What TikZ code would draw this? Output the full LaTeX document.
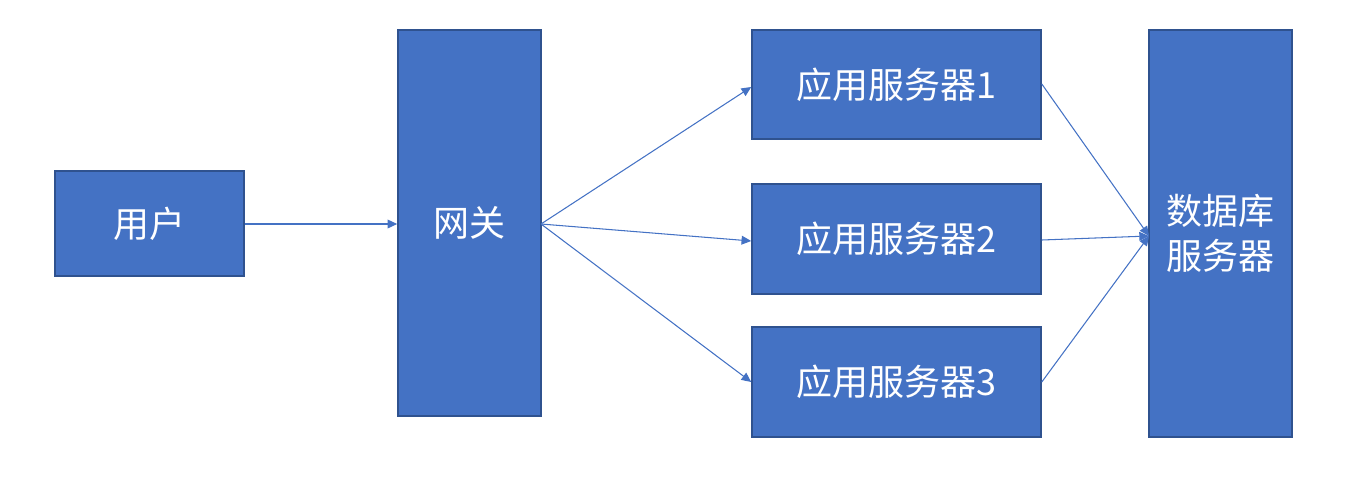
\documentclass[tikz,border=0pt]{standalone}
\usepackage{fontspec}
\setmainfont{Noto Sans CJK SC}
\usetikzlibrary{arrows.meta}
\definecolor{boxfill}{HTML}{4472C4}
\definecolor{boxline}{HTML}{2F528F}
\definecolor{arrowc}{HTML}{4472C4}
\begin{document}
\begin{tikzpicture}[x=0.02cm,y=-0.02cm,
  blk/.style={draw=boxline,line width=0.9pt,fill=boxfill,text=white,font=\fontsize{20.5}{25.5}\selectfont,inner sep=0pt,align=center},
  conn/.style={draw=arrowc,line width=0.6pt,-{Triangle[length=5.5pt,width=5pt]}}]
\useasboundingbox (0,0) rectangle (1350,490);
\node[blk,minimum width=189*0.02cm,minimum height=105*0.02cm] (user) at (149.5,223.5) {用户};
\node[blk,minimum width=143*0.02cm,minimum height=386*0.02cm] (gw) at (469.5,223) {网关};
\node[blk,minimum width=289*0.02cm,minimum height=109*0.02cm] (a1) at (896.5,84.5) {应用服务器1};
\node[blk,minimum width=289*0.02cm,minimum height=110*0.02cm] (a2) at (896.5,239) {应用服务器2};
\node[blk,minimum width=289*0.02cm,minimum height=110*0.02cm] (a3) at (896.5,382) {应用服务器3};
\node[blk,minimum width=143*0.02cm,minimum height=407*0.02cm] (db) at (1220.5,233.5) {数据库\\服务器};
\coordinate (gwr) at (541,224);
\coordinate (dbl) at (1149,236);
\draw[conn] (user.east |- gwr) -- (gw.west |- gwr);
\draw[conn] (gwr) -- (a1.west |- 0,87);
\draw[conn] (gwr) -- (a2.west |- 0,241);
\draw[conn] (gwr) -- (a3.west |- 0,382);
\draw[conn] (a1.east |- 0,84) -- (dbl);
\draw[conn] (a2.east |- 0,240) -- (dbl);
\draw[conn] (a3.east |- 0,382) -- (dbl);
\end{tikzpicture}
\end{document}
